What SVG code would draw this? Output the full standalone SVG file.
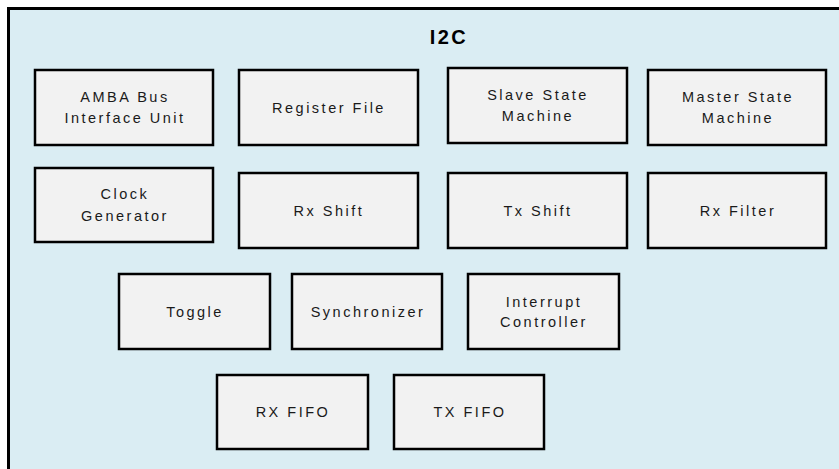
<svg xmlns="http://www.w3.org/2000/svg" width="839" height="469" viewBox="0 0 839 469">
<style>
.frame{fill:#daedf3;stroke:#000;stroke-width:3}
.box{fill:#f2f2f2;stroke:#000;stroke-width:2.5}
.lbl{font-family:"Liberation Sans",Arial,sans-serif;font-size:14.5px;fill:#1a1a1a;letter-spacing:2.5px;text-anchor:middle}
.title{font-family:"Liberation Sans",Arial,sans-serif;font-size:20px;font-weight:bold;fill:#000;letter-spacing:2.5px;text-anchor:middle}
</style>
<rect width="839" height="469" fill="#fff"/>
<rect class="frame" x="8.5" y="8.5" width="840" height="470"/>
<text class="title" x="449" y="44">I2C</text>
<g id="connectors"/>
<g id="amba"><rect class="box" x="35" y="70" width="178" height="75"/><text class="lbl" x="125" y="102">AMBA Bus</text><text class="lbl" x="125" y="123">Interface Unit</text></g>
<g id="regfile"><rect class="box" x="239" y="70" width="179" height="75"/><text class="lbl" x="329" y="113">Register File</text></g>
<g id="slave"><rect class="box" x="448" y="68" width="179" height="75"/><text class="lbl" x="538" y="100">Slave State</text><text class="lbl" x="538" y="121">Machine</text></g>
<g id="master"><rect class="box" x="648" y="70" width="178" height="75"/><text class="lbl" x="738" y="102">Master State</text><text class="lbl" x="738" y="123">Machine</text></g>
<g id="clock"><rect class="box" x="35" y="168" width="178" height="74"/><text class="lbl" x="125" y="199">Clock</text><text class="lbl" x="125" y="221">Generator</text></g>
<g id="rxshift"><rect class="box" x="239" y="173" width="179" height="75"/><text class="lbl" x="329" y="215.5">Rx Shift</text></g>
<g id="txshift"><rect class="box" x="448" y="173" width="179" height="75"/><text class="lbl" x="538" y="215.5">Tx Shift</text></g>
<g id="rxfilter"><rect class="box" x="648" y="173" width="178" height="75"/><text class="lbl" x="738" y="215.5">Rx Filter</text></g>
<g id="toggle"><rect class="box" x="119" y="274" width="151" height="75"/><text class="lbl" x="195" y="317">Toggle</text></g>
<g id="sync"><rect class="box" x="292" y="274" width="150" height="75"/><text class="lbl" x="368" y="317">Synchronizer</text></g>
<g id="interrupt"><rect class="box" x="468" y="274" width="151" height="75"/><text class="lbl" x="544" y="307">Interrupt</text><text class="lbl" x="544" y="327">Controller</text></g>
<g id="rxfifo"><rect class="box" x="217" y="375" width="151" height="74"/><text class="lbl" x="293" y="417">RX FIFO</text></g>
<g id="txfifo"><rect class="box" x="394" y="375" width="150" height="74"/><text class="lbl" x="470" y="417">TX FIFO</text></g>
</svg>
